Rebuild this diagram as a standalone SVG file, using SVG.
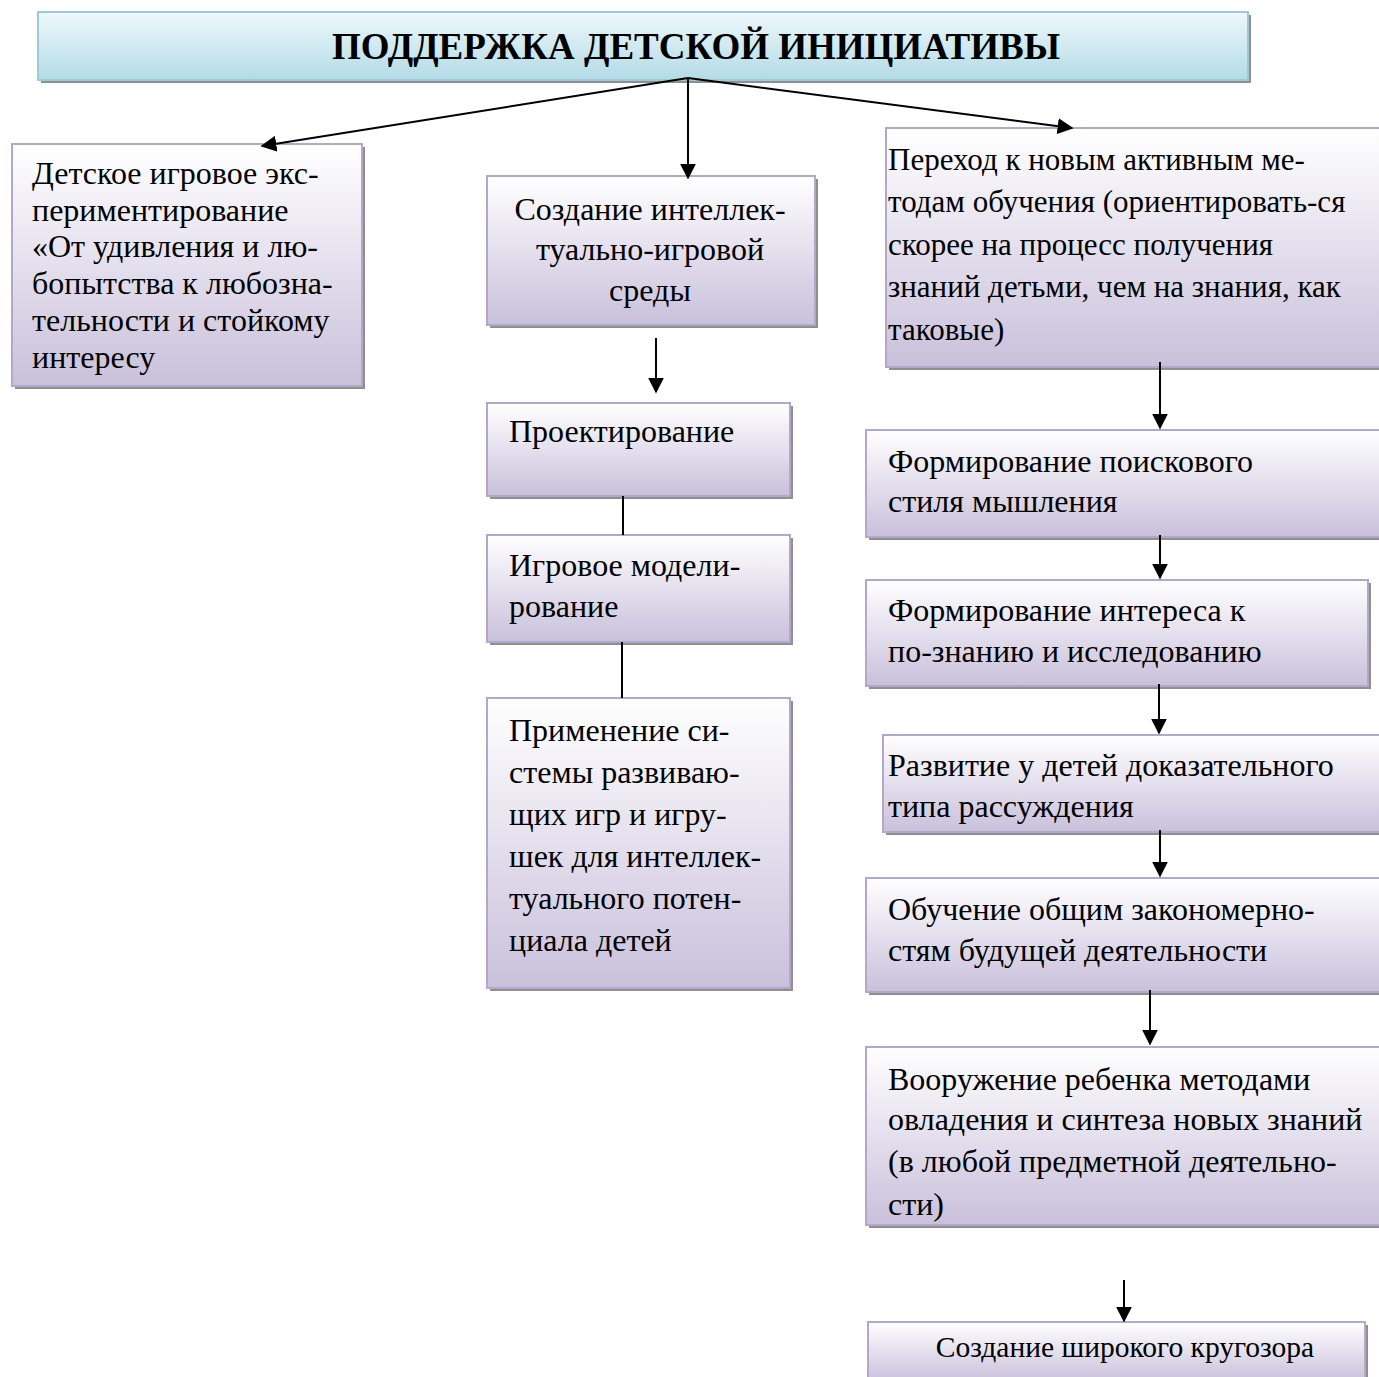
<svg xmlns="http://www.w3.org/2000/svg" width="1379" height="1377" viewBox="0 0 1379 1377">
<defs>
<linearGradient id="gBox" x1="0" y1="0" x2="0" y2="1">
<stop offset="0" stop-color="#ffffff"/>
<stop offset="1" stop-color="#c9c0db"/>
</linearGradient>
<linearGradient id="gTitle" x1="0" y1="0" x2="0" y2="1">
<stop offset="0" stop-color="#eef8fb"/>
<stop offset="1" stop-color="#b3dbe6"/>
</linearGradient>
<marker id="ahb" viewBox="0 0 10 10" refX="9" refY="5" markerWidth="16" markerHeight="16" markerUnits="userSpaceOnUse" orient="auto">
<path d="M0,0 L10,5 L0,10 z" fill="#000"/>
</marker>
</defs>
<style>
.sh{fill:#8f8f8f;}
.bx{fill:url(#gBox);stroke:#b4a8ca;stroke-width:2;}
.tb{fill:url(#gTitle);stroke:#9ccad8;stroke-width:2;}
.t{font-family:"Liberation Serif","Times New Roman",serif;font-size:32px;fill:#000;}
.s31{font-size:31px;}
.s29{font-size:29.5px;}
.c{text-anchor:middle;}
.h{font-family:"Liberation Serif","Times New Roman",serif;font-size:37px;font-weight:bold;fill:#000;text-anchor:middle;}
.ln{stroke:#000;stroke-width:2;fill:none;}
.ar{stroke:#000;stroke-width:2;fill:none;marker-end:url(#ahb);}
</style>
<rect width="1379" height="1377" fill="#fff"/>

<g id="title">
<rect class="sh" x="41" y="15" width="1210" height="68"/>
<rect class="tb" x="38" y="12" width="1210" height="68"/>
<text class="h" x="696" y="59">ПОДДЕРЖКА ДЕТСКОЙ ИНИЦИАТИВЫ</text>
</g>

<g id="n1">
<rect class="sh" x="15" y="147" width="350" height="242"/>
<rect class="bx" x="12" y="144" width="350" height="242"/>
<text class="t" x="32" y="184">Детское игровое экс-</text>
<text class="t" x="32" y="221">периментирование</text>
<text class="t" x="32" y="257">«От удивления и лю-</text>
<text class="t" x="32" y="294">бопытства к любозна-</text>
<text class="t" x="32" y="331">тельности и стойкому</text>
<text class="t" x="32" y="368">интересу</text>
</g>

<g id="n2">
<rect class="sh" x="490" y="179" width="328" height="149"/>
<rect class="bx" x="487" y="176" width="328" height="149"/>
<text class="t c" x="650" y="220">Создание интеллек-</text>
<text class="t c" x="650" y="260">туально-игровой</text>
<text class="t c" x="650" y="301">среды</text>
</g>

<g id="n3">
<rect class="sh" x="889" y="131" width="493" height="239"/>
<rect class="bx" x="886" y="128" width="495" height="239"/>
<text class="t s31" x="888" y="170">Переход к новым активным ме-</text>
<text class="t s31" x="888" y="212">тодам обучения (ориентировать-ся</text>
<text class="t s31" x="888" y="255">скорее на процесс получения</text>
<text class="t s31" x="888" y="297">знаний детьми, чем на знания, как</text>
<text class="t s31" x="888" y="340">таковые)</text>
</g>

<g id="n4">
<rect class="sh" x="490" y="406" width="303" height="93"/>
<rect class="bx" x="487" y="403" width="303" height="93"/>
<text class="t" x="509" y="442">Проектирование</text>
</g>

<g id="n5">
<rect class="sh" x="490" y="538" width="303" height="107"/>
<rect class="bx" x="487" y="535" width="303" height="107"/>
<text class="t" x="509" y="576">Игровое модели-</text>
<text class="t" x="509" y="617">рование</text>
</g>

<g id="n6">
<rect class="sh" x="490" y="701" width="303" height="290"/>
<rect class="bx" x="487" y="698" width="303" height="290"/>
<text class="t" x="509" y="741">Применение си-</text>
<text class="t" x="509" y="783">стемы развиваю-</text>
<text class="t" x="509" y="825">щих игр и игру-</text>
<text class="t" x="509" y="867">шек для интеллек-</text>
<text class="t" x="509" y="909">туального потен-</text>
<text class="t" x="509" y="951">циала детей</text>
</g>

<g id="n7">
<rect class="sh" x="869" y="433" width="513" height="107"/>
<rect class="bx" x="866" y="430" width="515" height="107"/>
<text class="t" x="888" y="472">Формирование поискового</text>
<text class="t" x="888" y="512">стиля мышления</text>
</g>

<g id="n8">
<rect class="sh" x="869" y="583" width="502" height="106"/>
<rect class="bx" x="866" y="580" width="502" height="106"/>
<text class="t" x="888" y="621">Формирование интереса к</text>
<text class="t" x="888" y="662">по-знанию и исследованию</text>
</g>

<g id="n9">
<rect class="sh" x="886" y="738" width="496" height="97"/>
<rect class="bx" x="883" y="735" width="498" height="97"/>
<text class="t" x="888" y="776">Развитие у детей доказательного</text>
<text class="t" x="888" y="817">типа рассуждения</text>
</g>

<g id="n10">
<rect class="sh" x="869" y="881" width="513" height="114"/>
<rect class="bx" x="866" y="878" width="515" height="114"/>
<text class="t" x="888" y="920">Обучение общим закономерно-</text>
<text class="t" x="888" y="961">стям будущей деятельности</text>
</g>

<g id="n11">
<rect class="sh" x="869" y="1050" width="513" height="178"/>
<rect class="bx" x="866" y="1047" width="515" height="178"/>
<text class="t" x="888" y="1090">Вооружение ребенка методами</text>
<text class="t" x="888" y="1130">овладения и синтеза новых знаний</text>
<text class="t" x="888" y="1172">(в любой предметной деятельно-</text>
<text class="t" x="888" y="1215">сти)</text>
</g>

<g id="n12">
<rect class="sh" x="871" y="1325" width="497" height="60"/>
<rect class="bx" x="868" y="1322" width="497" height="60"/>
<text class="t s29 c" x="1125" y="1357">Создание широкого кругозора</text>
</g>

<g id="connectors">
<line class="ar" x1="688" y1="78" x2="262" y2="146"/>
<line class="ar" x1="688" y1="78" x2="688" y2="178"/>
<line class="ar" x1="688" y1="78" x2="1072" y2="128"/>
<line class="ar" x1="656" y1="338" x2="656" y2="392"/>
<line class="ln" x1="623" y1="496" x2="623" y2="535"/>
<line class="ln" x1="622" y1="642" x2="622" y2="698"/>
<line class="ar" x1="1160" y1="362" x2="1160" y2="428"/>
<line class="ar" x1="1160" y1="535" x2="1160" y2="578"/>
<line class="ar" x1="1159" y1="684" x2="1159" y2="733"/>
<line class="ar" x1="1160" y1="830" x2="1160" y2="876"/>
<line class="ar" x1="1150" y1="990" x2="1150" y2="1044"/>
<line class="ar" x1="1124" y1="1280" x2="1124" y2="1321"/>
</g>
</svg>
